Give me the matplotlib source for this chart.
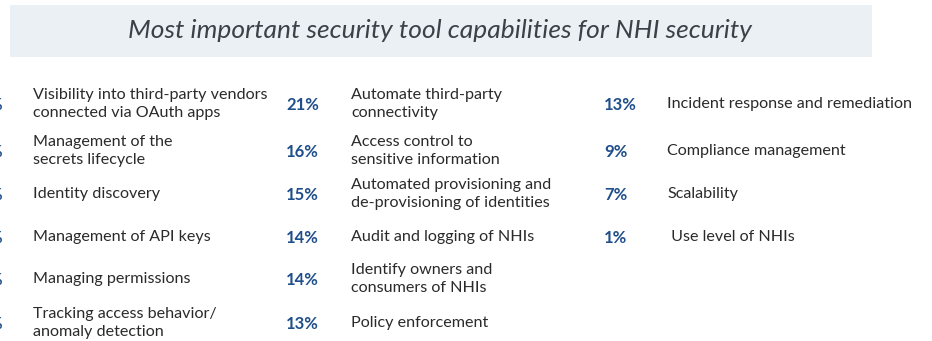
import matplotlib.pyplot as plt
from matplotlib.patches import Rectangle

# capabilities and share of respondents, three columns
col1_labels = [
    "Visibility into third-party vendors\nconnected via OAuth apps",
    "Management of the\nsecrets lifecycle",
    "Identity discovery",
    "Management of API keys",
    "Managing permissions",
    "Tracking access behavior/\nanomaly detection",
]
col2_labels = [
    "Automate third-party\nconnectivity",
    "Access control to\nsensitive information",
    "Automated provisioning and\nde-provisioning of identities",
    "Audit and logging of NHIs",
    "Identify owners and\nconsumers of NHIs",
    "Policy enforcement",
]
col2_pct = [21, 16, 15, 14, 14, 13]
col3_labels = [
    "Incident response and remediation",
    "Compliance management",
    "Scalability",
    " Use level of NHIs",
]
col3_pct = [13, 9, 7, 1]

title = "Most important security tool capabilities for NHI security"

W, H = 932, 341
row_y = [104, 151, 194, 237, 279, 323]

plt.rcParams['font.family'] = ['Lato', 'DejaVu Sans']

fig = plt.figure(figsize=(W / 100, H / 100), dpi=100)
fig.patch.set_facecolor('white')


def px(x, y):
    return x / W, 1 - y / H


# title banner
fig.patches.append(Rectangle(px(10, 57), 862 / W, 52 / H, transform=fig.transFigure,
                             facecolor='#eaf0f4', edgecolor='none'))
fig.text(*px(440, 31), title, ha='center', va='center', fontsize=19,
         style='italic', color='#3c4048')

blue = '#1f4f8b'
dark = '#2a2a2a'
label_size = 11.6
pct_size = 12
spacing = 1.45

# first column: percentages sit just outside the left edge
for i, lab in enumerate(col1_labels):
    fig.text(*px(2, row_y[i] + 1), "%", ha='right', va='center', fontsize=pct_size,
             fontweight='bold', color=blue)
    fig.text(*px(33, row_y[i]), lab, ha='left', va='center', fontsize=label_size,
             color=dark, linespacing=spacing)

for i, (lab, p) in enumerate(zip(col2_labels, col2_pct)):
    fig.text(*px(286, row_y[i] + 1), f"{p}%", ha='left', va='center', fontsize=pct_size,
             fontweight='bold', color=blue)
    fig.text(*px(351, row_y[i]), lab, ha='left', va='center', fontsize=label_size,
             color=dark, linespacing=spacing)

for i, (lab, p) in enumerate(zip(col3_labels, col3_pct)):
    fig.text(*px(604, row_y[i] + 1), f"{p}%", ha='left', va='center', fontsize=pct_size,
             fontweight='bold', color=blue)
    fig.text(*px(667, row_y[i]), lab, ha='left', va='center', fontsize=label_size,
             color=dark, linespacing=spacing)

fig.savefig('out.png', dpi=100, facecolor='white')
